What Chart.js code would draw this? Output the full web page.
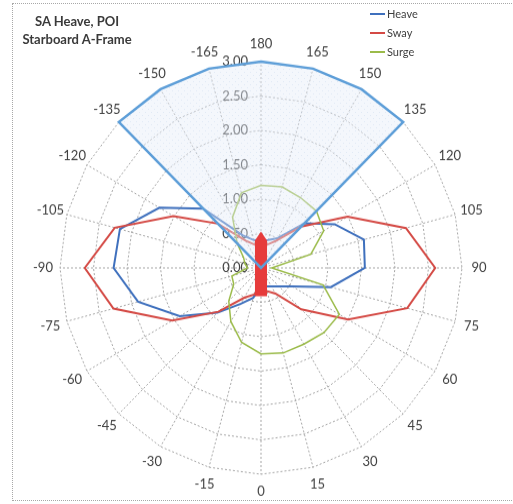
<!DOCTYPE html>
<html>
<head>
<meta charset="utf-8">
<script src="https://cdn.jsdelivr.net/npm/chart.js@4.4.1/dist/chart.umd.min.js"></script>
<style>
  html, body { margin: 0; padding: 0; background: #fff; }
  body { width: 513px; height: 504px; position: relative; overflow: hidden; font-family: Lato, "Open Sans", sans-serif; }
  #frame { position: absolute; left: 12px; top: 3px; width: 510px; height: 498px; border: 1px dotted #a8a8a8; box-sizing: border-box; }
  #plot { position: absolute; left: 0; top: 0; width: 513px; height: 491px; transform-origin: 0 0; transform: scaleY(1.0265); }
  #title { position: absolute; left: 10px; top: 12px; width: 134px; text-align: center; font-weight: bold; font-size: 13px; line-height: 18px; color: #3a3a3a; }
  #legend { position: absolute; left: 370px; top: 4px; font-size: 11px; color: #404040; }
  .item { height: 19px; display: flex; align-items: center; }
  .swatch { width: 15px; height: 2px; margin-right: 2px; }
</style>
</head>
<body>
<div id="frame"></div>
<div id="plot"><canvas id="chart" width="513" height="491"></canvas></div>
<div id="title">SA Heave, POI<br>Starboard A-Frame</div>
<div id="legend"></div>
<script>
// Heading angles, clockwise from the top spoke
const angleLabels = ['180','165','150','135','120','105','90','75','60','45','30','15',
                     '0','-15','-30','-45','-60','-75','-90','-105','-120','-135','-150','-165'];

// Response per heading
const heave = [0.40,0.42,0.50,0.92,1.27,1.59,1.55,1.08,0.54,0.38,0.31,0.28,
               0.27,0.45,0.60,0.92,1.40,1.90,2.20,2.18,1.75,1.22,0.55,0.42];
const sway  = [0.30,0.35,0.46,0.85,1.49,2.24,2.60,2.26,1.50,0.85,0.43,0.35,
               0.30,0.40,0.50,0.90,1.53,2.28,2.63,2.26,1.51,0.91,0.46,0.35];
const surge = [1.20,1.22,1.18,1.17,1.08,0.77,0.16,0.96,1.35,1.33,1.28,1.28,
               1.25,1.12,0.90,0.68,0.47,0.45,0.20,0.25,0.30,0.50,0.85,1.13];
// Shaded sector (head seas region)
const sector = [3,3,3,3,0,0,0,0,0,0,0,0,
                0,0,0,0,0,0,0,0,0,3,3,3];

// Radial axis
const rMin = 0, rMax = 3, rStep = 0.5;

const seriesNames = ['Heave', 'Sway', 'Surge'];
const seriesColors = ['#3f70bd', '#d44a45', '#9bbb4a'];

// Vessel outline in axis units (across, along)
const hullAcross = [0, 0.09, 0.09, -0.09, -0.09];
const hullAlong  = [0.53, 0.40, -0.41, -0.41, 0.40];

function speckle() {
  const c = document.createElement('canvas');
  c.width = c.height = 6;
  const g = c.getContext('2d');
  g.fillStyle = 'rgba(228,237,248,0.42)';
  g.fillRect(0, 0, 6, 6);
  g.fillStyle = 'rgba(175,200,230,0.30)';
  g.fillRect(1, 1, 1, 1);
  g.fillRect(4, 4, 1, 1);
  return g.createPattern(c, 'repeat');
}

const legend = document.getElementById('legend');
seriesNames.forEach((n, i) => {
  const row = document.createElement('div');
  row.className = 'item';
  row.innerHTML = '<span class="swatch" style="background:' + seriesColors[i] + '"></span>' + n;
  legend.appendChild(row);
});

const textPlugin = {
  id: 'polarText',
  beforeDatasetsDraw(chart) {
    const s = chart.scales.r, ctx = chart.ctx;
    ctx.save();
    ctx.font = '13px Lato';
    ctx.fillStyle = '#404040';
    ctx.textBaseline = 'middle';
    ctx.textAlign = 'right';
    s.ticks.forEach(t => {
      const d = s.getDistanceFromCenterForValue(t.value);
      ctx.fillText(t.value.toFixed(2), s.xCenter - 13, s.yCenter - d);
    });
    ctx.textAlign = 'center';
    angleLabels.forEach((lab, i) => {
      const p = s.getPointPosition(i, s.drawingArea + 17);
      ctx.fillText(lab, p.x, p.y);
    });
    ctx.restore();
  }
};

const hullPlugin = {
  id: 'hull',
  beforeDatasetDraw(chart, args) {
    if (args.index !== 3) return;
    const s = chart.scales.r, ctx = chart.ctx;
    const k = s.getDistanceFromCenterForValue(1);
    ctx.save();
    ctx.beginPath();
    hullAcross.forEach((u, i) => {
      const x = s.xCenter + u * k, y = s.yCenter - hullAlong[i] * k;
      if (i === 0) ctx.moveTo(x, y); else ctx.lineTo(x, y);
    });
    ctx.closePath();
    ctx.fillStyle = '#e63b3b';
    ctx.fill();
    ctx.restore();
  }
};

new Chart(document.getElementById('chart'), {
  type: 'radar',
  data: {
    labels: angleLabels,
    datasets: [
      { label: seriesNames[0], data: heave, borderColor: seriesColors[0], borderWidth: 2, fill: false, order: 3 },
      { label: seriesNames[1], data: sway,  borderColor: seriesColors[1], borderWidth: 2, fill: false, order: 2 },
      { label: seriesNames[2], data: surge, borderColor: seriesColors[2], borderWidth: 1.5, fill: false, order: 1 },
      { label: 'Sector', data: sector, borderColor: '#5d9ed8', borderWidth: 2.5, fill: 'origin', backgroundColor: speckle(), order: 0 }
    ]
  },
  options: {
    responsive: false,
    devicePixelRatio: 1,
    animation: false,
    layout: { padding: { left: 60, right: 50, top: 59.5, bottom: 28.5 } },
    elements: { point: { radius: 0, hoverRadius: 0 }, line: { tension: 0 } },
    plugins: { legend: { display: false }, tooltip: { enabled: false } },
    scales: {
      r: {
        min: rMin, max: rMax,
        ticks: { stepSize: rStep, display: false },
        grid: { color: 'rgba(150,150,150,0.85)', lineWidth: 1 },
        border: { dash: [2, 2] },
        angleLines: { color: 'rgba(150,150,150,0.85)', lineWidth: 1, borderDash: [2, 2] },
        pointLabels: { display: false }
      }
    }
  },
  plugins: [textPlugin, hullPlugin]
});
</script>
</body>
</html>
